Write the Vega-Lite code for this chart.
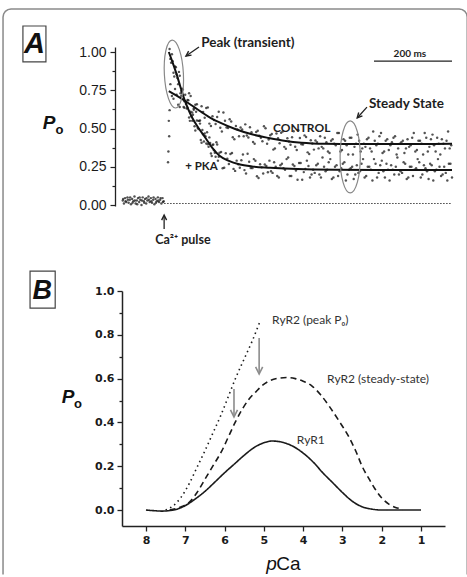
{
"$schema":"https://vega.github.io/schema/vega-lite/v6.json",
"background":"white",
"padding":{"left":0,"top":6,"right":0,"bottom":0},
"spacing":85,
"bounds":"flush",
"config":{"view":{"stroke":null},"axis":{"grid":false},"text":{"font":"Lato","color":"#1e1e1e"}},
"datasets":{
"dots":[
{"t":124,"p":0.79},{"t":132,"p":0.695},{"t":140,"p":0.72},{"t":148,"p":0.64},{"t":156,"p":0.715},{"t":164,"p":0.66},{"t":172,"p":0.73},{"t":180,"p":0.605},{"t":188,"p":0.655},{"t":196,"p":0.55},{"t":204,"p":0.645},{"t":212,"p":0.57},{"t":220,"p":0.638},{"t":228,"p":0.516},{"t":236,"p":0.555},{"t":244,"p":0.575},{"t":252,"p":0.505},{"t":260,"p":0.605},{"t":268,"p":0.507},{"t":276,"p":0.56},{"t":284,"p":0.443},{"t":292,"p":0.517},{"t":300,"p":0.45},{"t":308,"p":0.493},{"t":316,"p":0.527},{"t":324,"p":0.441},{"t":332,"p":0.475},{"t":340,"p":0.4},{"t":348,"p":0.485},{"t":356,"p":0.44},{"t":364,"p":0.515},{"t":372,"p":0.4},{"t":380,"p":0.456},{"t":388,"p":0.362},{"t":396,"p":0.468},{"t":404,"p":0.404},{"t":412,"p":0.481},{"t":420,"p":0.368},{"t":428,"p":0.415},{"t":436,"p":0.443},{"t":444,"p":0.381},{"t":452,"p":0.489},{"t":460,"p":0.397},{"t":468,"p":0.455},{"t":476,"p":0.344},{"t":484,"p":0.423},{"t":492,"p":0.362},{"t":500,"p":0.411},{"t":508,"p":0.45},{"t":516,"p":0.37},{"t":524,"p":0.41},{"t":532,"p":0.34},{"t":540,"p":0.43},{"t":548,"p":0.39},{"t":556,"p":0.47},{"t":564,"p":0.36},{"t":572,"p":0.42},{"t":580,"p":0.33},{"t":588,"p":0.44},{"t":596,"p":0.38},{"t":604,"p":0.46},{"t":612,"p":0.35},{"t":620,"p":0.4},{"t":628,"p":0.43},{"t":636,"p":0.37},{"t":644,"p":0.48},{"t":652,"p":0.39},{"t":660,"p":0.45},{"t":668,"p":0.34},{"t":676,"p":0.42},{"t":684,"p":0.36},{"t":692,"p":0.41},{"t":700,"p":0.45},{"t":708,"p":0.37},{"t":716,"p":0.41},{"t":724,"p":0.34},{"t":732,"p":0.43},{"t":740,"p":0.39},{"t":748,"p":0.47},{"t":756,"p":0.36},{"t":764,"p":0.42},{"t":772,"p":0.33},{"t":780,"p":0.44},{"t":788,"p":0.38},{"t":796,"p":0.46},{"t":804,"p":0.35},{"t":812,"p":0.4},{"t":820,"p":0.43},{"t":828,"p":0.37},{"t":836,"p":0.48},{"t":844,"p":0.39},
{"t":128,"p":0.712},{"t":136,"p":0.758},{"t":144,"p":0.655},{"t":152,"p":0.712},{"t":160,"p":0.678},{"t":168,"p":0.635},{"t":176,"p":0.712},{"t":184,"p":0.63},{"t":192,"p":0.658},{"t":200,"p":0.552},{"t":208,"p":0.608},{"t":216,"p":0.634},{"t":224,"p":0.532},{"t":232,"p":0.58},{"t":240,"p":0.53},{"t":248,"p":0.61},{"t":256,"p":0.48},{"t":264,"p":0.551},{"t":272,"p":0.503},{"t":280,"p":0.546},{"t":288,"p":0.43},{"t":296,"p":0.493},{"t":304,"p":0.506},{"t":312,"p":0.45},{"t":320,"p":0.454},{"t":328,"p":0.508},{"t":336,"p":0.412},{"t":344,"p":0.477},{"t":352,"p":0.452},{"t":360,"p":0.417},{"t":368,"p":0.502},{"t":376,"p":0.428},{"t":384,"p":0.464},{"t":392,"p":0.37},{"t":400,"p":0.436},{"t":408,"p":0.472},{"t":416,"p":0.38},{"t":424,"p":0.436},{"t":432,"p":0.394},{"t":440,"p":0.482},{"t":448,"p":0.36},{"t":456,"p":0.438},{"t":464,"p":0.396},{"t":472,"p":0.444},{"t":480,"p":0.333},{"t":488,"p":0.402},{"t":496,"p":0.421},{"t":504,"p":0.37},{"t":512,"p":0.38},{"t":520,"p":0.44},{"t":528,"p":0.35},{"t":536,"p":0.42},{"t":544,"p":0.4},{"t":552,"p":0.47},{"t":560,"p":0.35},{"t":568,"p":0.43},{"t":576,"p":0.39},{"t":584,"p":0.44},{"t":592,"p":0.33},{"t":600,"p":0.4},{"t":608,"p":0.42},{"t":616,"p":0.37},{"t":624,"p":0.38},{"t":632,"p":0.44},{"t":640,"p":0.35},{"t":648,"p":0.42},{"t":656,"p":0.4},{"t":664,"p":0.47},{"t":672,"p":0.35},{"t":680,"p":0.43},{"t":688,"p":0.39},{"t":696,"p":0.44},{"t":704,"p":0.33},{"t":712,"p":0.4},{"t":720,"p":0.42},{"t":728,"p":0.37},{"t":736,"p":0.38},{"t":744,"p":0.44},{"t":752,"p":0.35},{"t":760,"p":0.42},{"t":768,"p":0.4},{"t":776,"p":0.47},{"t":784,"p":0.35},{"t":792,"p":0.43},{"t":800,"p":0.39},{"t":808,"p":0.44},{"t":816,"p":0.33},{"t":824,"p":0.4},{"t":832,"p":0.42},{"t":840,"p":0.37},
{"t":122,"p":1.02},{"t":126,"p":0.93},{"t":130,"p":0.94},{"t":134,"p":0.84},{"t":138,"p":0.9},{"t":142,"p":0.83},{"t":146,"p":0.87},{"t":150,"p":0.73},{"t":154,"p":0.76},{"t":158,"p":0.64},{"t":162,"p":0.72},{"t":166,"p":0.63},{"t":170,"p":0.685},{"t":174,"p":0.55},{"t":178,"p":0.58},{"t":182,"p":0.59},{"t":186,"p":0.515},{"t":190,"p":0.61},{"t":194,"p":0.505},{"t":198,"p":0.55},{"t":202,"p":0.425},{"t":206,"p":0.49},{"t":210,"p":0.415},{"t":214,"p":0.45},{"t":218,"p":0.475},{"t":222,"p":0.38},{"t":226,"p":0.405},{"t":230,"p":0.32},{"t":234,"p":0.395},{"t":238,"p":0.342},{"t":242,"p":0.41},{"t":246,"p":0.29},{"t":250,"p":0.342},{"t":258,"p":0.24},{"t":266,"p":0.338},{"t":274,"p":0.268},{"t":282,"p":0.34},{"t":290,"p":0.223},{"t":298,"p":0.267},{"t":306,"p":0.292},{"t":314,"p":0.228},{"t":322,"p":0.335},{"t":330,"p":0.242},{"t":338,"p":0.3},{"t":346,"p":0.188},{"t":354,"p":0.267},{"t":362,"p":0.206},{"t":370,"p":0.255},{"t":378,"p":0.29},{"t":386,"p":0.21},{"t":394,"p":0.25},{"t":402,"p":0.18},{"t":410,"p":0.27},{"t":418,"p":0.23},{"t":426,"p":0.31},{"t":434,"p":0.19},{"t":442,"p":0.255},{"t":450,"p":0.165},{"t":458,"p":0.275},{"t":466,"p":0.215},{"t":474,"p":0.29},{"t":482,"p":0.18},{"t":490,"p":0.23},{"t":498,"p":0.26},{"t":506,"p":0.2},{"t":514,"p":0.31},{"t":522,"p":0.22},{"t":530,"p":0.28},{"t":538,"p":0.17},{"t":546,"p":0.25},{"t":554,"p":0.19},{"t":562,"p":0.24},{"t":570,"p":0.28},{"t":578,"p":0.2},{"t":586,"p":0.24},{"t":594,"p":0.17},{"t":602,"p":0.26},{"t":610,"p":0.22},{"t":618,"p":0.3},{"t":626,"p":0.19},{"t":634,"p":0.25},{"t":642,"p":0.16},{"t":650,"p":0.27},{"t":658,"p":0.21},{"t":666,"p":0.29},{"t":674,"p":0.18},{"t":682,"p":0.23},{"t":690,"p":0.26},{"t":698,"p":0.2},{"t":706,"p":0.31},{"t":714,"p":0.22},{"t":722,"p":0.28},{"t":730,"p":0.17},{"t":738,"p":0.25},{"t":746,"p":0.19},{"t":754,"p":0.24},{"t":762,"p":0.28},{"t":770,"p":0.2},{"t":778,"p":0.24},{"t":786,"p":0.17},{"t":794,"p":0.26},{"t":802,"p":0.22},{"t":810,"p":0.3},{"t":818,"p":0.19},{"t":826,"p":0.25},{"t":834,"p":0.16},{"t":842,"p":0.27},
{"t":124,"p":0.955},{"t":128,"p":0.985},{"t":132,"p":0.865},{"t":136,"p":0.905},{"t":140,"p":0.855},{"t":144,"p":0.79},{"t":148,"p":0.845},{"t":152,"p":0.745},{"t":156,"p":0.755},{"t":160,"p":0.635},{"t":164,"p":0.675},{"t":168,"p":0.687},{"t":172,"p":0.572},{"t":176,"p":0.61},{"t":180,"p":0.55},{"t":184,"p":0.622},{"t":188,"p":0.487},{"t":192,"p":0.552},{"t":196,"p":0.497},{"t":200,"p":0.532},{"t":204,"p":0.407},{"t":208,"p":0.462},{"t":212,"p":0.467},{"t":216,"p":0.402},{"t":220,"p":0.397},{"t":224,"p":0.442},{"t":228,"p":0.337},{"t":232,"p":0.392},{"t":236,"p":0.358},{"t":240,"p":0.316},{"t":244,"p":0.395},{"t":248,"p":0.316},{"t":254,"p":0.346},{"t":262,"p":0.244},{"t":270,"p":0.303},{"t":278,"p":0.334},{"t":286,"p":0.236},{"t":294,"p":0.29},{"t":302,"p":0.244},{"t":310,"p":0.33},{"t":318,"p":0.206},{"t":326,"p":0.283},{"t":334,"p":0.241},{"t":342,"p":0.289},{"t":350,"p":0.177},{"t":358,"p":0.246},{"t":366,"p":0.265},{"t":374,"p":0.214},{"t":382,"p":0.22},{"t":390,"p":0.28},{"t":398,"p":0.19},{"t":406,"p":0.26},{"t":414,"p":0.24},{"t":422,"p":0.3},{"t":430,"p":0.19},{"t":438,"p":0.265},{"t":446,"p":0.225},{"t":454,"p":0.275},{"t":462,"p":0.165},{"t":470,"p":0.235},{"t":478,"p":0.255},{"t":486,"p":0.2},{"t":494,"p":0.21},{"t":502,"p":0.27},{"t":510,"p":0.18},{"t":518,"p":0.25},{"t":526,"p":0.23},{"t":534,"p":0.3},{"t":542,"p":0.18},{"t":550,"p":0.26},{"t":558,"p":0.22},{"t":566,"p":0.27},{"t":574,"p":0.16},{"t":582,"p":0.23},{"t":590,"p":0.25},{"t":598,"p":0.2},{"t":606,"p":0.21},{"t":614,"p":0.27},{"t":622,"p":0.18},{"t":630,"p":0.25},{"t":638,"p":0.23},{"t":646,"p":0.3},{"t":654,"p":0.18},{"t":662,"p":0.26},{"t":670,"p":0.22},{"t":678,"p":0.27},{"t":686,"p":0.16},{"t":694,"p":0.23},{"t":702,"p":0.25},{"t":710,"p":0.2},{"t":718,"p":0.21},{"t":726,"p":0.27},{"t":734,"p":0.18},{"t":742,"p":0.25},{"t":750,"p":0.23},{"t":758,"p":0.3},{"t":766,"p":0.18},{"t":774,"p":0.26},{"t":782,"p":0.22},{"t":790,"p":0.27},{"t":798,"p":0.16},{"t":806,"p":0.23},{"t":814,"p":0.25},{"t":822,"p":0.2},{"t":830,"p":0.21},{"t":838,"p":0.27},{"t":846,"p":0.18},
{"t":120,"p":0.55},{"t":121,"p":0.45},{"t":119,"p":0.35},{"t":122,"p":0.62},{"t":118,"p":0.28},
{"t":2,"p":0.03},{"t":5,"p":0.01},{"t":8,"p":0.045},{"t":11,"p":0.02},{"t":14,"p":0.05},{"t":17,"p":0.015},{"t":20,"p":0.035},{"t":23,"p":0.005},{"t":26,"p":0.04},{"t":29,"p":0.025},{"t":32,"p":0.055},{"t":35,"p":0.01},{"t":38,"p":0.03},{"t":41,"p":0.045},{"t":44,"p":0.02},{"t":47,"p":0.035},{"t":50,"p":0.0},{"t":53,"p":0.05},{"t":56,"p":0.025},{"t":59,"p":0.04},{"t":62,"p":0.01},{"t":65,"p":0.03},{"t":68,"p":0.055},{"t":71,"p":0.02},{"t":74,"p":0.045},{"t":77,"p":0.015},{"t":80,"p":0.035},{"t":83,"p":0.005},{"t":86,"p":0.04},{"t":89,"p":0.025},{"t":92,"p":0.05},{"t":95,"p":0.02},{"t":98,"p":0.035},{"t":101,"p":0.01},{"t":104,"p":0.045},{"t":107,"p":0.025},
{"t":3,"p":0.04},{"t":9,"p":0.025},{"t":15,"p":0.035},{"t":21,"p":0.05},{"t":27,"p":0.015},{"t":33,"p":0.03},{"t":39,"p":0.005},{"t":45,"p":0.05},{"t":51,"p":0.03},{"t":57,"p":0.015},{"t":63,"p":0.045},{"t":69,"p":0.035},{"t":75,"p":0.025},{"t":81,"p":0.05},{"t":87,"p":0.015},{"t":93,"p":0.03},{"t":99,"p":0.045},{"t":105,"p":0.02}
],
"fits":[
{"s":"CONTROL","t":120,"p":0.745},{"s":"CONTROL","t":140,"p":0.715},{"s":"CONTROL","t":162,"p":0.68},{"s":"CONTROL","t":185,"p":0.64},{"s":"CONTROL","t":205,"p":0.605},{"s":"CONTROL","t":230,"p":0.565},{"s":"CONTROL","t":250,"p":0.54},{"s":"CONTROL","t":290,"p":0.497},{"s":"CONTROL","t":333,"p":0.462},{"s":"CONTROL","t":376,"p":0.438},{"s":"CONTROL","t":420,"p":0.418},{"s":"CONTROL","t":460,"p":0.407},{"s":"CONTROL","t":520,"p":0.4},{"s":"CONTROL","t":600,"p":0.398},{"s":"CONTROL","t":700,"p":0.398},{"s":"CONTROL","t":846,"p":0.4},
{"s":"PKA","t":120,"p":1.0},{"s":"PKA","t":130,"p":0.93},{"s":"PKA","t":140,"p":0.855},{"s":"PKA","t":150,"p":0.77},{"s":"PKA","t":160,"p":0.69},{"s":"PKA","t":170,"p":0.625},{"s":"PKA","t":180,"p":0.57},{"s":"PKA","t":197,"p":0.5},{"s":"PKA","t":215,"p":0.435},{"s":"PKA","t":231,"p":0.375},{"s":"PKA","t":250,"p":0.322},{"s":"PKA","t":274,"p":0.288},{"s":"PKA","t":300,"p":0.266},{"s":"PKA","t":333,"p":0.252},{"s":"PKA","t":380,"p":0.244},{"s":"PKA","t":450,"p":0.235},{"s":"PKA","t":550,"p":0.23},{"s":"PKA","t":700,"p":0.228},{"s":"PKA","t":846,"p":0.228}
],
"border":[
{"i":0,"t":-305,"p":-2.415},{"i":1,"t":-305,"p":1.2287},{"i":2,"t":-303.4,"p":1.2487},{"i":3,"t":-299,"p":1.2657},{"i":4,"t":-292.4,"p":1.277},{"i":5,"t":-284.5,"p":1.281},{"i":6,"t":864.5,"p":1.281},{"i":7,"t":872.4,"p":1.277},{"i":8,"t":879,"p":1.2657},{"i":9,"t":883.4,"p":1.2487},{"i":10,"t":885,"p":1.2287},{"i":11,"t":885,"p":-2.415}
],
"curves":[
{"c":"RyR1","x":8.0,"y":0.0},{"c":"RyR1","x":7.8,"y":-0.003},{"c":"RyR1","x":7.6,"y":-0.005},{"c":"RyR1","x":7.3,"y":0.0},{"c":"RyR1","x":7.0,"y":0.02},{"c":"RyR1","x":6.75,"y":0.05},{"c":"RyR1","x":6.5,"y":0.085},{"c":"RyR1","x":6.25,"y":0.127},{"c":"RyR1","x":6.0,"y":0.17},{"c":"RyR1","x":5.75,"y":0.21},{"c":"RyR1","x":5.5,"y":0.25},{"c":"RyR1","x":5.25,"y":0.285},{"c":"RyR1","x":5.0,"y":0.307},{"c":"RyR1","x":4.8,"y":0.315},{"c":"RyR1","x":4.5,"y":0.308},{"c":"RyR1","x":4.25,"y":0.29},{"c":"RyR1","x":4.0,"y":0.26},{"c":"RyR1","x":3.75,"y":0.22},{"c":"RyR1","x":3.5,"y":0.17},{"c":"RyR1","x":3.25,"y":0.125},{"c":"RyR1","x":3.0,"y":0.08},{"c":"RyR1","x":2.75,"y":0.04},{"c":"RyR1","x":2.5,"y":0.015},{"c":"RyR1","x":2.25,"y":0.004},{"c":"RyR1","x":2.0,"y":0.0},{"c":"RyR1","x":1.0,"y":0.0},
{"c":"steady","x":7.4,"y":0.0},{"c":"steady","x":7.1,"y":0.015},{"c":"steady","x":6.9,"y":0.035},{"c":"steady","x":6.7,"y":0.08},{"c":"steady","x":6.5,"y":0.14},{"c":"steady","x":6.3,"y":0.2},{"c":"steady","x":6.07,"y":0.27},{"c":"steady","x":5.9,"y":0.335},{"c":"steady","x":5.73,"y":0.4},{"c":"steady","x":5.55,"y":0.46},{"c":"steady","x":5.38,"y":0.506},{"c":"steady","x":5.2,"y":0.54},{"c":"steady","x":5.05,"y":0.567},{"c":"steady","x":4.85,"y":0.59},{"c":"steady","x":4.62,"y":0.602},{"c":"steady","x":4.4,"y":0.605},{"c":"steady","x":4.2,"y":0.6},{"c":"steady","x":4.0,"y":0.588},{"c":"steady","x":3.78,"y":0.567},{"c":"steady","x":3.55,"y":0.525},{"c":"steady","x":3.34,"y":0.475},{"c":"steady","x":3.1,"y":0.41},{"c":"steady","x":2.85,"y":0.338},{"c":"steady","x":2.65,"y":0.265},{"c":"steady","x":2.5,"y":0.2},{"c":"steady","x":2.3,"y":0.135},{"c":"steady","x":2.17,"y":0.096},{"c":"steady","x":2.0,"y":0.055},{"c":"steady","x":1.82,"y":0.027},{"c":"steady","x":1.65,"y":0.012},{"c":"steady","x":1.5,"y":0.005},
{"c":"peak","x":7.5,"y":0.0},{"c":"peak","x":7.3,"y":0.02},{"c":"peak","x":7.1,"y":0.06},{"c":"peak","x":6.9,"y":0.12},{"c":"peak","x":6.7,"y":0.195},{"c":"peak","x":6.5,"y":0.27},{"c":"peak","x":6.3,"y":0.35},{"c":"peak","x":6.1,"y":0.43},{"c":"peak","x":5.9,"y":0.52},{"c":"peak","x":5.7,"y":0.61},{"c":"peak","x":5.5,"y":0.69},{"c":"peak","x":5.3,"y":0.77},{"c":"peak","x":5.1,"y":0.86}
]
},
"vconcat":[
{
"width":330,"height":159,
"encoding":{
"x":{"field":"t","type":"quantitative","scale":{"domain":[0,846],"nice":false,"zero":false},"axis":null},
"y":{"field":"p","type":"quantitative","scale":{"domain":[-0.0065,1.0327],"nice":false,"zero":false},
"axis":{"offset":7,"values":[0,0.125,0.25,0.375,0.5,0.625,0.75,0.875,1],"labelExpr":"round(datum.value*8)%2==0 ? format(datum.value,'.2f') : ''","tickSize":{"condition":{"test":"round(datum.value*8)%2==0","value":5},"value":3},"labelFont":"Liberation Sans","labelFontSize":14,"labelColor":"#1a1a1a","labelPadding":4,"domainColor":"#222","domainWidth":1.3,"tickColor":"#222","tickWidth":1.2,"title":null}}
},
"layer":[
{"data":{"name":"border"},"mark":{"type":"line","stroke":"#8a8a8a","strokeWidth":1.5},"encoding":{"order":{"field":"i","type":"quantitative"}}},
{"data":{"values":[{"t":-254,"t2":-195,"p":1.17,"p2":0.935}]},"mark":{"type":"rect","filled":false,"stroke":"#444","strokeWidth":1.2},"encoding":{"x2":{"field":"t2"},"y2":{"field":"p2"}}},
{"data":{"values":[{"t":-224.5,"p":1.052,"label":"A"}]},"mark":{"type":"text","font":"Liberation Sans","fontSize":29,"fontWeight":"bold","fontStyle":"italic","align":"center","baseline":"middle","color":"#111"},"encoding":{"text":{"field":"label"}}},
{"data":{"values":[{"t":-187,"p":0.533,"label":"P"}]},"mark":{"type":"text","font":"Liberation Sans","fontSize":19,"fontWeight":"bold","fontStyle":"italic","align":"center","baseline":"middle","color":"#111"},"encoding":{"text":{"field":"label"}}},
{"data":{"values":[{"t":-160,"p":0.49,"label":"o"}]},"mark":{"type":"text","font":"Liberation Sans","fontSize":13,"fontWeight":"bold","align":"center","baseline":"middle","color":"#111"},"encoding":{"text":{"field":"label"}}},
{"data":{"values":[{"t":108,"p":0.01},{"t":846,"p":0.01}]},"mark":{"type":"line","stroke":"#444","strokeWidth":1.2,"strokeDash":[1.5,1.5]},"encoding":{}},
{"data":{"name":"dots"},"mark":{"type":"circle","size":6,"color":"#1a1a1a","opacity":0.75},"encoding":{}},
{"data":{"name":"fits"},"mark":{"type":"line","stroke":"#111","strokeWidth":2,"interpolate":"monotone"},"encoding":{"detail":{"field":"s"}}},
{"data":{"values":[{"t":133,"p":0.856}]},"mark":{"type":"point","shape":"M -0.28 0 A 0.28 1 0 1 0 0.28 0 A 0.28 1 0 1 0 -0.28 0 Z","size":4624,"angle":-3,"filled":false,"stroke":"#888","strokeWidth":1.2,"opacity":1},"encoding":{}},
{"data":{"values":[{"t":585,"p":0.314}]},"mark":{"type":"point","shape":"M -0.28 0 A 0.28 1 0 1 0 0.28 0 A 0.28 1 0 1 0 -0.28 0 Z","size":5184,"filled":false,"stroke":"#888","strokeWidth":1.2,"opacity":1},"encoding":{}},
{"data":{"values":[{"t":197.4,"p":1.033,"t2":164,"p2":0.974},{"t":628,"p":0.64,"t2":603,"p2":0.569},{"t":108,"p":-0.157,"t2":108,"p2":-0.07},{"t":646,"p":0.941,"t2":846,"p2":0.941}]},"mark":{"type":"rule","stroke":"#222","strokeWidth":1.3},"encoding":{"x2":{"field":"t2"},"y2":{"field":"p2"}}},
{"data":{"values":[{"t":164,"p":0.974}]},"mark":{"type":"point","shape":"M -0.5 1 L 0 0 L 0.5 1","size":100,"angle":235,"filled":false,"stroke":"#222","strokeWidth":1.4,"opacity":1},"encoding":{}},
{"data":{"values":[{"t":603,"p":0.569}]},"mark":{"type":"point","shape":"M -0.5 1 L 0 0 L 0.5 1","size":100,"angle":222,"filled":false,"stroke":"#222","strokeWidth":1.4,"opacity":1},"encoding":{}},
{"data":{"values":[{"t":108,"p":-0.066}]},"mark":{"type":"point","shape":"M -0.5 1 L 0 0 L 0.5 1","size":100,"filled":false,"stroke":"#222","strokeWidth":1.4,"opacity":1},"encoding":{}},
{"data":{"values":[{"t":203,"p":1.059,"label":"Peak (transient)"},{"t":633,"p":0.66,"label":"Steady State"}]},"mark":{"type":"text","fontSize":13.5,"fontWeight":"bold","align":"left","baseline":"middle"},"encoding":{"text":{"field":"label"}}},
{"data":{"values":[{"t":387,"p":0.503,"label":"CONTROL"}]},"mark":{"type":"text","fontSize":12,"fontWeight":"bold","align":"left","baseline":"middle"},"encoding":{"text":{"field":"label"}}},
{"data":{"values":[{"t":162,"p":0.248,"label":"+ PKA"}]},"mark":{"type":"text","fontSize":11.5,"fontWeight":"bold","align":"left","baseline":"middle"},"encoding":{"text":{"field":"label"}}},
{"data":{"values":[{"t":738,"p":0.99,"label":"200 ms"}]},"mark":{"type":"text","fontSize":10,"fontWeight":"bold","align":"center","baseline":"middle"},"encoding":{"text":{"field":"label"}}},
{"data":{"values":[{"t":156,"p":-0.229,"label":"Ca²⁺ pulse"}]},"mark":{"type":"text","fontSize":12.5,"fontWeight":"bold","align":"center","baseline":"middle"},"encoding":{"text":{"field":"label"}}}
]
},
{
"width":323,"height":235,
"encoding":{
"x":{"field":"x","type":"quantitative","scale":{"domain":[0.39,8.61],"reverse":true,"nice":false,"zero":false},
"axis":{"values":[1,2,3,4,5,6,7,8],"format":"d","labelFont":"DejaVu Sans","labelFontWeight":"bold","labelFontSize":11,"labelColor":"#1a1a1a","labelPadding":3,"tickSize":5,"tickColor":"#222","tickWidth":1.3,"domainColor":"#222","domainWidth":1.5,"title":null,"labelFlush":false,"labelOverlap":false}},
"y":{"field":"y","type":"quantitative","scale":{"domain":[-0.073,1.0],"nice":false,"zero":false},
"axis":{"values":[0,0.1,0.2,0.3,0.4,0.5,0.6,0.7,0.8,0.9,1.0],"labelExpr":"round(datum.value*10)%2==0 ? format(datum.value,'.1f') : ''","tickSize":{"condition":{"test":"round(datum.value*10)%2==0","value":5},"value":3},"labelFont":"DejaVu Sans","labelFontWeight":"bold","labelFontSize":11,"labelColor":"#1a1a1a","labelPadding":3,"domainColor":"#222","domainWidth":1.5,"tickColor":"#222","tickWidth":1.3,"title":null}}
},
"layer":[
{"data":{"values":[{"x":10.95,"x2":10.31,"y":1.091,"y2":0.922}]},"mark":{"type":"rect","filled":false,"stroke":"#444","strokeWidth":1.2},"encoding":{"x2":{"field":"x2"},"y2":{"field":"y2"}}},
{"data":{"values":[{"x":10.64,"y":1.0,"label":"B"}]},"mark":{"type":"text","font":"Liberation Sans","fontSize":27,"fontWeight":"bold","fontStyle":"italic","align":"center","baseline":"middle","color":"#111"},"encoding":{"text":{"field":"label"}}},
{"data":{"values":[{"x":9.984,"y":0.514,"label":"P"}]},"mark":{"type":"text","font":"Liberation Sans","fontSize":19,"fontWeight":"bold","fontStyle":"italic","align":"center","baseline":"middle","color":"#111"},"encoding":{"text":{"field":"label"}}},
{"data":{"values":[{"x":9.73,"y":0.484,"label":"o"}]},"mark":{"type":"text","font":"Liberation Sans","fontSize":13,"fontWeight":"bold","align":"center","baseline":"middle","color":"#111"},"encoding":{"text":{"field":"label"}}},
{"data":{"values":[{"x":4.806,"y":-0.274,"label":"p"}]},"mark":{"type":"text","font":"Liberation Sans","fontSize":19,"fontStyle":"italic","align":"center","baseline":"alphabetic","color":"#111"},"encoding":{"text":{"field":"label"}}},
{"data":{"values":[{"x":4.373,"y":-0.274,"label":"Ca"}]},"mark":{"type":"text","font":"Liberation Sans","fontSize":19,"align":"center","baseline":"alphabetic","color":"#111"},"encoding":{"text":{"field":"label"}}},
{"data":{"name":"curves"},"mark":{"type":"line","stroke":"#1a1a1a","strokeWidth":1.6,"interpolate":"monotone"},"encoding":{"strokeDash":{"field":"c","type":"nominal","scale":{"domain":["RyR1","steady","peak"],"range":[[1,0],[6,4],[1.5,3.5]]},"legend":null}}},
{"data":{"values":[{"x":5.12,"y":0.785,"x2":5.12,"y2":0.625},{"x":5.76,"y":0.552,"x2":5.76,"y2":0.43}]},"mark":{"type":"rule","stroke":"#8c8c8c","strokeWidth":1.6},"encoding":{"x2":{"field":"x2"},"y2":{"field":"y2"}}},
{"data":{"values":[{"x":5.12,"y":0.621},{"x":5.76,"y":0.425}]},"mark":{"type":"point","shape":"M -0.5 1 L 0 0 L 0.5 1","size":200,"angle":180,"filled":false,"stroke":"#8c8c8c","strokeWidth":1.6,"opacity":1},"encoding":{}},
{"data":{"values":[{"x":4.79,"y":0.868,"label":"RyR2 (peak Pₒ)"},{"x":3.39,"y":0.598,"label":"RyR2 (steady-state)"},{"x":4.16,"y":0.32,"label":"RyR1"}]},"mark":{"type":"text","fontSize":12,"align":"left","baseline":"middle","color":"#333"},"encoding":{"text":{"field":"label"}}}
]
}
]
}
